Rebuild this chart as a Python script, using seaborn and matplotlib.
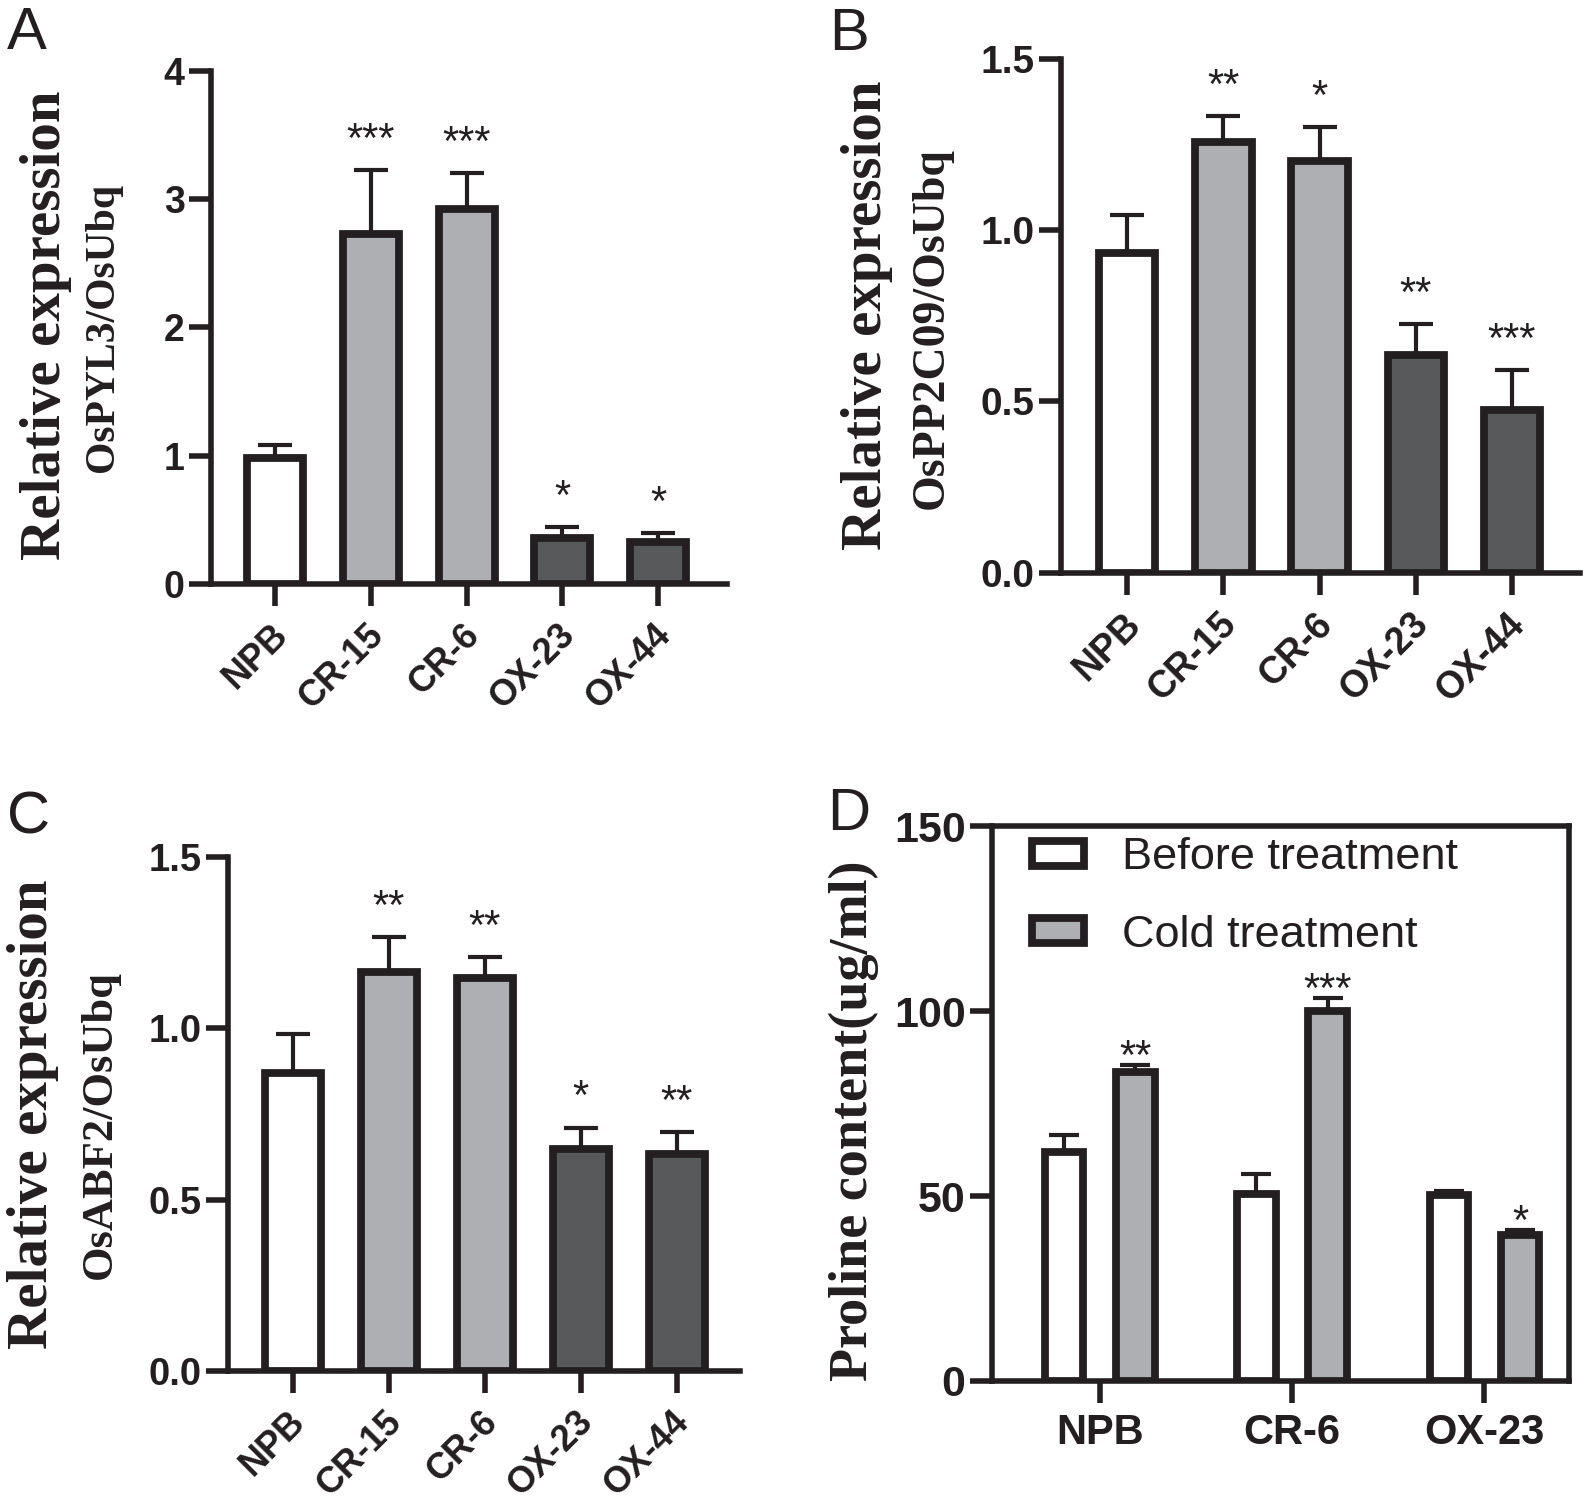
import numpy as np
import pandas as pd
import matplotlib
matplotlib.use("Agg")
import matplotlib.pyplot as plt
import seaborn as sns
from matplotlib.patches import Patch
from matplotlib.ticker import FormatStrFormatter
from matplotlib.transforms import ScaledTranslation

# ---------------- data ----------------
genotypes = ["NPB", "CR-15", "CR-6", "OX-23", "OX-44"]

pyl3_mean = [0.98, 2.725, 2.925, 0.36, 0.325]
pyl3_err = [0.10, 0.50, 0.28, 0.085, 0.075]
pyl3_sig = ["", "***", "***", "*", "*"]

pp2c_mean = [0.932, 1.258, 1.201, 0.635, 0.475]
pp2c_err = [0.112, 0.075, 0.10, 0.09, 0.116]
pp2c_sig = ["", "**", "*", "**", "***"]

abf2_mean = [0.869, 1.165, 1.147, 0.647, 0.632]
abf2_err = [0.113, 0.10, 0.06, 0.063, 0.064]
abf2_sig = ["", "**", "**", "*", "**"]

proline_groups = ["NPB", "CR-6", "OX-23"]
treatments = ["Before treatment", "Cold treatment"]
before_mean = [61.9, 50.5, 50.4]
before_err = [4.5, 5.6, 1.1]
cold_mean = [83.6, 100.1, 39.4]
cold_err = [2.0, 3.6, 1.5]
before_sig = ["", "", ""]
cold_sig = ["**", "***", "*"]

# ---------------- style ----------------
EDGE = "#231F20"
WHITE = "#FFFFFF"
LIGHT = "#AEAFB2"
DARK = "#58595B"
bar_colors = [WHITE, LIGHT, LIGHT, DARK, DARK]

sns.set_style("white")
plt.rcParams["font.family"] = ["Liberation Sans", "DejaVu Sans"]
plt.rcParams["text.color"] = EDGE

W, H = 1584, 1504
fig = plt.figure(figsize=(W / 100, H / 100), dpi=100)


def axes_px(l, r, t, b):
    return fig.add_axes([l / W, 1 - b / H, (r - l) / W, (b - t) / H])


LW_BAR = 5.6
LW_AX = 4.0


def style_axes(ax, fs, box=False):
    for s in ["left", "bottom", "top", "right"]:
        ax.spines[s].set_linewidth(LW_AX)
        ax.spines[s].set_color(EDGE)
        ax.spines[s].set_capstyle("projecting")
    if not box:
        ax.spines["top"].set_visible(False)
        ax.spines["right"].set_visible(False)
    ax.tick_params(axis="both", which="major", width=LW_AX, length=16,
                   color=EDGE, labelcolor=EDGE, labelsize=fs, direction="out",
                   bottom=True, left=True, top=False, right=False)
    ax.tick_params(axis="y", pad=3)
    ax.set_xlabel("")
    ax.set_ylabel("")
    for lab in ax.get_yticklabels():
        lab.set_fontweight("bold")


def expr_panel(ax, means, errs, sigs, ylim, yticks, fmt, xlim, fs, xfs, star_off):
    df = pd.DataFrame({"genotype": genotypes, "value": means})
    sns.barplot(data=df, x="genotype", y="value", hue="genotype",
                palette=bar_colors, edgecolor=EDGE, linewidth=LW_BAR,
                width=0.585, saturation=1, errorbar=None, legend=False,
                ax=ax, zorder=3)
    xs = np.arange(len(genotypes))
    ax.errorbar(xs, means, yerr=[np.zeros(len(means)), errs], fmt="none",
                ecolor=EDGE, elinewidth=3, capsize=12, capthick=3, zorder=2)
    for x, m, e, s in zip(xs, means, errs, sigs):
        if s:
            ax.annotate(s, xy=(x, m + e), xytext=(0, star_off),
                        textcoords="offset points", ha="center",
                        va="baseline", fontsize=30, color=EDGE)
    ax.set_ylim(*ylim)
    ax.set_yticks(yticks)
    ax.yaxis.set_major_formatter(FormatStrFormatter(fmt))
    ax.set_xlim(*xlim)
    style_axes(ax, fs)
    ax.set_xticks(xs)
    ax.set_xticklabels(genotypes, rotation=45, ha="right", va="top",
                       rotation_mode="anchor", fontweight="bold", fontsize=xfs)
    ax.tick_params(axis="x", pad=8)
    off = ScaledTranslation(-5 / 100, 0, fig.dpi_scale_trans)
    for lab in ax.get_xticklabels():
        lab.set_transform(lab.get_transform() + off)


# Panel A
axA = axes_px(211, 727, 70.7, 584)
expr_panel(axA, pyl3_mean, pyl3_err, pyl3_sig, (0, 4), [0, 1, 2, 3, 4], "%d",
           (-0.67, 4.72), 27, 26, 13)

# Panel B
axB = axes_px(1061, 1580, 58.6, 572.8)
expr_panel(axB, pp2c_mean, pp2c_err, pp2c_sig, (0, 1.5), [0, 0.5, 1.0, 1.5],
           "%.1f", (-0.69, 4.71), 28, 27, 13)

# Panel C
axC = axes_px(228, 740, 856.7, 1370.9)
expr_panel(axC, abf2_mean, abf2_err, abf2_sig, (0, 1.5), [0, 0.5, 1.0, 1.5],
           "%.1f", (-0.674, 4.66), 27.5, 26, 13)

# Panel D
axD = axes_px(992, 1569, 826.4, 1381)
dfD = pd.DataFrame({
    "genotype": proline_groups * 2,
    "treatment": [treatments[0]] * 3 + [treatments[1]] * 3,
    "value": before_mean + cold_mean,
})
sns.barplot(data=dfD, x="genotype", y="value", hue="treatment",
            palette=[WHITE, LIGHT], edgecolor=EDGE, linewidth=LW_BAR,
            width=0.74, gap=0.46, saturation=1, errorbar=None, ax=axD,
            zorder=3)
for cont, errs, sigs in zip(axD.containers, [before_err, cold_err],
                            [before_sig, cold_sig]):
    xs = [p.get_x() + p.get_width() / 2 for p in cont]
    hs = [p.get_height() for p in cont]
    axD.errorbar(xs, hs, yerr=[np.zeros(len(hs)), errs], fmt="none",
                 ecolor=EDGE, elinewidth=3, capsize=10.5, capthick=3, zorder=2)
    for x, m, e, s in zip(xs, hs, errs, sigs):
        if s:
            axD.annotate(s, xy=(x, m + e), xytext=(0, -3),
                         textcoords="offset points", ha="center",
                         va="baseline", fontsize=30, color=EDGE)
axD.set_ylim(0, 150)
axD.set_yticks([0, 50, 100, 150])
axD.yaxis.set_major_formatter(FormatStrFormatter("%d"))
axD.set_xlim(-0.56, 2.44)
style_axes(axD, 31, box=True)
axD.tick_params(axis="x", pad=7)
for lab in axD.get_xticklabels():
    lab.set_fontweight("bold")
    lab.set_fontsize(30)
handles = [Patch(facecolor=WHITE, edgecolor=EDGE, linewidth=LW_BAR),
           Patch(facecolor=LIGHT, edgecolor=EDGE, linewidth=LW_BAR)]
axD.legend(handles=handles, labels=treatments, loc="upper left",
           bbox_to_anchor=(0.069, 0.98), frameon=False, fontsize=32.5,
           handlelength=1.15, handleheight=0.45, handletextpad=0.85,
           labelspacing=0.8, borderpad=0, borderaxespad=0)

# ---------------- y labels ----------------
serif = ["Liberation Serif", "DejaVu Serif"]


def ylab(x, y, s, size):
    fig.text(x / W, 1 - y / H, s, rotation=90, rotation_mode="anchor",
             ha="center", va="baseline", fontsize=size, fontweight="bold",
             family=serif, color=EDGE)


ylab(59.7, 325, "Relative expression", 41)
ylab(112.5, 327, "OsPYL3/OsUbq", 30)
ylab(881, 315, "Relative expression", 41)
ylab(943, 328, "OsPP2C09/OsUbq", 33)
ylab(47.5, 1114, "Relative expression", 41)
ylab(111, 1125, "OsABF2/OsUbq", 32)
ylab(867, 1121, "Proline content(ug/ml)", 39)

# ---------------- panel letters ----------------
for letter, (x, y) in zip("ABCD", [(7, 49), (829, 50), (7, 834), (827, 830)]):
    fig.text(x / W, 1 - y / H, letter, fontsize=43, ha="left",
             va="baseline", color=EDGE)

fig.savefig("out.png", dpi=100)
